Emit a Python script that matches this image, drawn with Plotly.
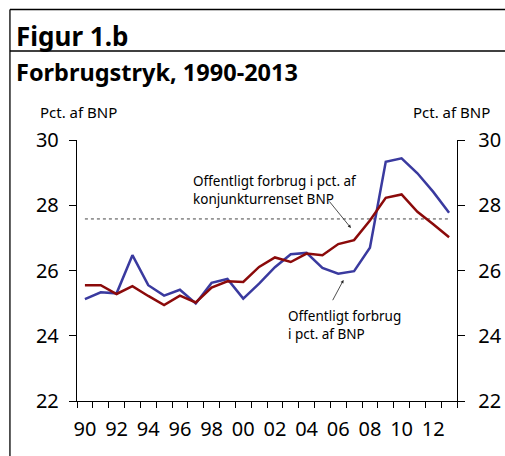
import plotly.graph_objects as go

years = list(range(1990, 2014))
offentligt_bnp = [25.12, 25.33, 25.30, 26.47, 25.55, 25.23, 25.41, 24.99, 25.62, 25.74,
                  25.14, 25.60, 26.10, 26.50, 26.54, 26.08, 25.90, 25.98, 26.70, 29.33,
                  29.44, 28.98, 28.41, 27.77]
offentligt_konj = [25.55, 25.55, 25.28, 25.52, 25.22, 24.94, 25.23, 25.02, 25.48, 25.67,
                   25.65, 26.11, 26.40, 26.26, 26.52, 26.47, 26.81, 26.93, 27.53, 28.23,
                   28.33, 27.80, 27.42, 27.02]
gennemsnit = 27.58
tick_years = list(range(1990, 2013, 2))
tick_labels = [f"{y % 100:02d}" for y in tick_years]
y_ticks = [22, 24, 26, 28, 30]

W, H = 505, 456
L, T = 77, 140
R = W - 456.7
B = H - 401
PW, PH = W - L - R, H - T - B

def px(x):
    return (x - L) / PW

def py(y):
    return (H - B - y) / PH

BLUE = "#3a3a9f"
RED = "#8b0a0a"
FONT = "Noto Sans"

fig = go.Figure()
fig.add_trace(go.Scatter(x=[years[0], years[-1]], y=[gennemsnit, gennemsnit], mode="lines",
                         line=dict(color="#444444", width=1, dash="dot"), showlegend=False))
fig.add_trace(go.Scatter(x=years, y=offentligt_bnp, mode="lines",
                         line=dict(color=BLUE, width=2.5), showlegend=False))
fig.add_trace(go.Scatter(x=years, y=offentligt_konj, mode="lines",
                         line=dict(color=RED, width=2.5), showlegend=False))
fig.add_trace(go.Scatter(x=years, y=offentligt_konj, mode="lines", yaxis="y2",
                         line=dict(color="rgba(0,0,0,0)", width=0), showlegend=False, hoverinfo="skip"))

axis_common = dict(showgrid=False, zeroline=False, showline=True, linecolor="black",
                   linewidth=1.2, automargin=False, tickfont=dict(size=20, family=FONT))

fig.update_layout(
    width=W, height=H,
    margin=dict(l=L, r=R, t=T, b=B, autoexpand=False),
    paper_bgcolor="white", plot_bgcolor="white",
    font=dict(family=FONT, color="black"),
    xaxis=dict(range=[1989.5, 2013.5], tickmode="array", tickvals=tick_years, ticktext=tick_labels,
               ticks="outside", ticklen=0, ticklabelstandoff=10,
               minor=dict(tick0=1989.5, dtick=1, ticks="outside", ticklen=6,
                          tickcolor="black", tickwidth=1, showgrid=False),
               **axis_common),
    yaxis=dict(range=[22, 30], tickvals=y_ticks, ticks="outside", ticklen=7, tickwidth=1,
               tickcolor="black", ticklabelstandoff=6, **axis_common),
    yaxis2=dict(range=[22, 30], tickvals=y_ticks, ticks="outside", ticklen=7, tickwidth=1,
                tickcolor="black", overlaying="y", side="right", ticklabelstandoff=9,
                **axis_common),
)

shapes = [
    dict(type="line", xref="paper", yref="paper", x0=px(10), x1=px(510), y0=py(9.5), y1=py(9.5),
         line=dict(color="black", width=1.3)),
    dict(type="line", xref="paper", yref="paper", x0=px(10), x1=px(510), y0=py(51), y1=py(51),
         line=dict(color="black", width=1.3)),
    dict(type="line", xref="paper", yref="paper", x0=px(10), x1=px(10), y0=py(9.5), y1=py(460),
         line=dict(color="black", width=1.3)),
]
fig.update_layout(shapes=shapes)

ann = [
    dict(text="<b>Figur 1.b</b>", x=px(14), y=py(36), xanchor="left", yanchor="middle",
         font=dict(size=26, family=FONT)),
    dict(text="<b>Forbrugstryk, 1990-2013</b>", x=px(14), y=py(72), xanchor="left", yanchor="middle",
         font=dict(size=23.5, family=FONT)),
    dict(text="Pct. af BNP", x=px(38), y=py(112), xanchor="left", yanchor="middle",
         font=dict(size=15, family=FONT)),
    dict(text="Pct. af BNP", x=px(492), y=py(112), xanchor="right", yanchor="middle",
         font=dict(size=15, family=FONT)),
    dict(text="Offentligt forbrug i pct. af<br>konjunkturrenset BNP", x=px(191), y=py(190),
         xanchor="left", yanchor="middle", align="left", font=dict(size=13.5, family=FONT)),
    dict(text="Offentligt forbrug<br>i pct. af BNP", x=px(286), y=py(325),
         xanchor="left", yanchor="middle", align="left", font=dict(size=13.5, family=FONT)),
    dict(text="", x=px(350.7), y=py(228), ax=328 - 350.7, ay=200 - 228, axref="pixel", ayref="pixel",
         showarrow=True, arrowhead=2, arrowsize=0.8, arrowwidth=0.8, arrowcolor="#222222"),
    dict(text="", x=px(343.3), y=py(280), ax=331.7 - 343.3, ay=301.7 - 280, axref="pixel", ayref="pixel",
         showarrow=True, arrowhead=2, arrowsize=0.8, arrowwidth=0.8, arrowcolor="#222222"),
]
for a in ann:
    a.setdefault("xref", "paper")
    a.setdefault("yref", "paper")
    a.setdefault("showarrow", False)
fig.update_layout(annotations=ann)

fig.write_html("out.html", config={"displayModeBar": False, "staticPlot": True},
               post_script="document.body.style.margin='0';document.body.style.overflow='hidden';")
